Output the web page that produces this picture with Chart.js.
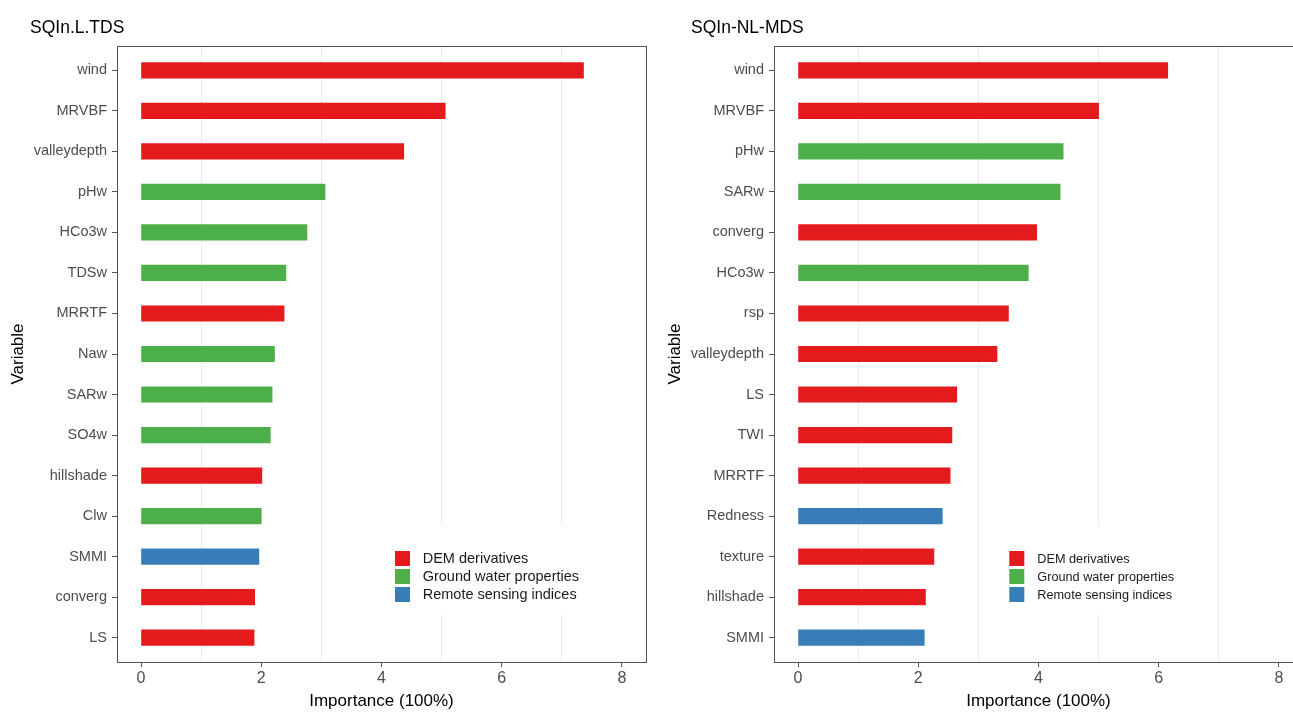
<!DOCTYPE html>
<html>
<head>
<meta charset="utf-8">
<script src="https://cdn.jsdelivr.net/npm/chart.js@4.4.1/dist/chart.umd.min.js"></script>
<style>
  html, body { margin: 0; padding: 0; background: #fff; overflow: hidden; width: 1293px; height: 713px; }
  .panel { position: absolute; top: 0; width: 660px; height: 713px; }
  #p1 { left: 0; }
  #p2 { left: 657px; }
  canvas { display: block; }
</style>
</head>
<body>
<div class="panel" id="p1"><canvas id="c1" width="660" height="713"></canvas></div>
<div class="panel" id="p2"><canvas id="c2" width="660" height="713"></canvas></div>
<script>
// Variable groups and their colours
const groups = ['DEM derivatives', 'Ground water properties', 'Remote sensing indices'];
const groupColors = ['#E41A1C', '#4DAF4A', '#377EB8'];

// SQIn.L.TDS model: variables (top to bottom), importance, group index
const tdsVariables = ['wind', 'MRVBF', 'valleydepth', 'pHw', 'HCo3w', 'TDSw', 'MRRTF', 'Naw', 'SARw', 'SO4w', 'hillshade', 'Clw', 'SMMI', 'converg', 'LS'];
const tdsImportance = [7.36, 5.06, 4.37, 3.06, 2.76, 2.41, 2.38, 2.22, 2.18, 2.15, 2.01, 2.00, 1.96, 1.89, 1.88];
const tdsGroup = [0, 0, 0, 1, 1, 1, 0, 1, 1, 1, 0, 1, 2, 0, 0];

// SQIn-NL-MDS model
const mdsVariables = ['wind', 'MRVBF', 'pHw', 'SARw', 'converg', 'HCo3w', 'rsp', 'valleydepth', 'LS', 'TWI', 'MRRTF', 'Redness', 'texture', 'hillshade', 'SMMI'];
const mdsImportance = [6.15, 5.00, 4.41, 4.36, 3.97, 3.83, 3.50, 3.31, 2.64, 2.56, 2.53, 2.40, 2.26, 2.12, 2.10];
const mdsGroup = [0, 0, 1, 1, 0, 1, 0, 0, 0, 0, 0, 2, 0, 0, 2];

// Axis ticks: labelled ticks and light grid positions
const xTickValues = [0, 2, 4, 6, 8];
const xGridValues = [1, 3, 5, 7];

Chart.defaults.font.family = "'Liberation Sans', Arial, sans-serif";

const TRANSPARENT = 'rgba(0,0,0,0)';

// Draws the panel title, the framed plot box and the legend key
const panelDecor = {
  id: 'panelDecor',
  afterDraw(chart, args, o) {
    const ctx = chart.ctx;
    const a = chart.chartArea;
    ctx.save();
    // legend background and keys
    const lg = o.legend;
    ctx.fillStyle = '#fff';
    ctx.fillRect(lg.bgX, lg.bgY, lg.bgW, lg.bgH);
    ctx.font = lg.fontSize + "px 'Liberation Sans', Arial, sans-serif";
    ctx.textAlign = 'left';
    ctx.textBaseline = 'middle';
    chart.data.datasets.forEach((ds, i) => {
      const y = lg.y + i * lg.step;
      ctx.fillStyle = ds.backgroundColor;
      ctx.fillRect(lg.x, y, lg.size, lg.size);
      ctx.fillStyle = '#1a1a1a';
      ctx.fillText(ds.label, lg.textX, y + lg.size / 2 + 0.5);
    });
    // panel frame
    ctx.strokeStyle = '#555';
    ctx.lineWidth = 1;
    ctx.strokeRect(Math.round(a.left) + 0.5, Math.round(a.top) + 0.5,
                   Math.round(a.right - a.left), Math.round(a.bottom - a.top));
    // title
    ctx.fillStyle = '#000';
    ctx.font = o.titleSize + "px 'Liberation Sans', Arial, sans-serif";
    ctx.textBaseline = 'middle';
    ctx.fillText(o.title, o.titleX, o.titleY);
    ctx.restore();
  }
};

function makeChart(canvasId, title, titleX, variables, importance, group, legend) {
  const datasets = groups.map((g, gi) => ({
    label: g,
    backgroundColor: groupColors[gi],
    borderWidth: 0,
    grouped: false,
    barThickness: 15.5,
    data: variables
      .map((v, i) => ({ x: importance[i], y: i, g: group[i] }))
      .filter(p => p.g === gi)
  }));

  return new Chart(document.getElementById(canvasId), {
    type: 'bar',
    data: { datasets },
    options: {
      indexAxis: 'y',
      responsive: false,
      animation: false,
      events: [],
      layout: { padding: { top: 46, right: 14, left: 0, bottom: 0 } },
      plugins: {
        legend: { display: false },
        tooltip: { enabled: false },
        panelDecor: { title, titleX, titleY: 28, titleSize: 17.5, legend }
      },
      scales: {
        x: {
          type: 'linear',
          min: -0.4,
          max: 8.4,
          offset: false,
          afterBuildTicks: s => {
            s.ticks = [...xTickValues, ...xGridValues].sort((p, q) => p - q).map(v => ({ value: v }));
          },
          ticks: {
            autoSkip: false,
            maxRotation: 0,
            padding: 2,
            color: '#4D4D4D',
            font: { size: 16 },
            callback: v => (xTickValues.includes(v) ? String(v) : '')
          },
          grid: {
            offset: false,
            lineWidth: 1,
            tickLength: 5,
            color: c => (c.tick && xGridValues.includes(c.tick.value) ? '#EBEBEB' : TRANSPARENT),
            tickColor: c => (c.tick && xTickValues.includes(c.tick.value) ? '#555' : TRANSPARENT)
          },
          border: { display: false },
          title: {
            display: true,
            text: 'Importance (100%)',
            color: '#000',
            font: { size: 17 },
            padding: { top: 0, bottom: 1 }
          },
          afterFit: s => { s.height = 51; }
        },
        y: {
          type: 'linear',
          reverse: true,
          offset: false,
          min: -0.6,
          max: variables.length - 0.4,
          afterBuildTicks: s => {
            s.ticks = variables.map((_, i) => ({ value: i }));
          },
          ticks: {
            autoSkip: false,
            padding: 5,
            color: '#4D4D4D',
            font: { size: 14.5 },
            callback: v => variables[v]
          },
          grid: {
            offset: false,
            drawOnChartArea: false,
            tickLength: 5,
            tickColor: '#555'
          },
          border: { display: false },
          title: {
            display: true,
            text: 'Variable',
            color: '#000',
            font: { size: 17 },
            padding: { top: 8, bottom: 0 }
          },
          afterFit: s => { s.width = 117; }
        }
      }
    },
    plugins: [panelDecor]
  });
}

makeChart('c1', 'SQIn.L.TDS', 30, tdsVariables, tdsImportance, tdsGroup, {
  bgX: 385, bgY: 525, bgW: 215, bgH: 90,
  x: 395, y: 551, size: 15, step: 18, textX: 422.7, fontSize: 14.5
});

makeChart('c2', 'SQIn-NL-MDS', 34, mdsVariables, mdsImportance, mdsGroup, {
  bgX: 343, bgY: 525, bgW: 190, bgH: 90,
  x: 352.3, y: 551, size: 15, step: 18, textX: 380.3, fontSize: 12.7
});
</script>
</body>
</html>
